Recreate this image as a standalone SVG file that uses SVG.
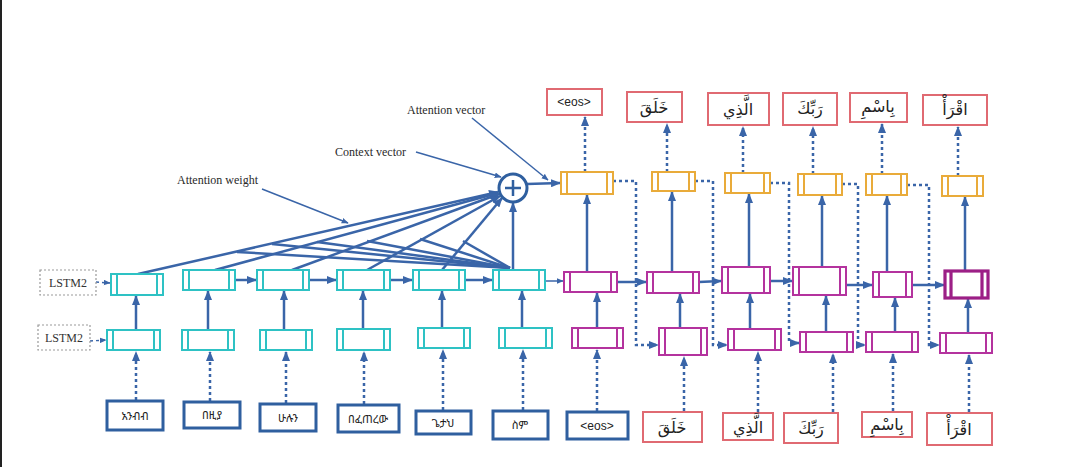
<svg xmlns="http://www.w3.org/2000/svg" width="1080" height="467" viewBox="0 0 1080 467">
<defs>
<style>
.enc{fill:#fff;stroke:#2ec2c4;stroke-width:2}
.dec{fill:#fff;stroke:#b4339e;stroke-width:2}
.dec6{fill:#fff;stroke:#9c1f86;stroke-width:3.2}
.yel{fill:#fff;stroke:#e9ab3a;stroke-width:2}
.inp{fill:#fff;stroke:#2f5f9f;stroke-width:3}
.out{fill:#fff;stroke:#e06a72;stroke-width:2}
.lstm{fill:#fff;stroke:#999;stroke-width:1.2;stroke-dasharray:2 2}
.c{stroke:#3a65a8;stroke-width:2.5;fill:none}
.t{stroke:#3a65a8;stroke-width:1.5;fill:none}
.d{stroke-dasharray:3 3}
.lbl{font-family:"Liberation Serif",serif;font-size:12px;fill:#2a2a2a}
.ls{font-family:"Liberation Serif",serif;font-size:12px;fill:#333}
.am{font-family:"Noto Sans Ethiopic","Abyssinica SIL","DejaVu Sans",sans-serif;font-size:11px;fill:#222}
.eos{font-family:"Liberation Sans",sans-serif;font-size:12px;fill:#222}
.ar{font-family:"DejaVu Sans","Noto Sans",sans-serif;font-size:16px;fill:#222}
</style>
<marker id="ah" viewBox="0 0 10 8" refX="9" refY="4" markerWidth="10" markerHeight="8" markerUnits="userSpaceOnUse" orient="auto"><path d="M0,0 L10,4 L0,8 z" fill="#3a65a8"/></marker>
<marker id="as" viewBox="0 0 10 8" refX="9" refY="4" markerWidth="7" markerHeight="6" markerUnits="userSpaceOnUse" orient="auto"><path d="M0,0 L10,4 L0,8 z" fill="#3a65a8"/></marker>
</defs>
<rect width="1080" height="467" fill="#fff"/>
<line x1="1" y1="0" x2="1" y2="467" stroke="#222" stroke-width="2"/>

<g id="connectors">
<g class="c" stroke-width="2" marker-end="url(#ah)">
<line x1="138" y1="274" x2="498" y2="192"/>
<line x1="215" y1="270" x2="498" y2="193"/>
<line x1="292" y1="270" x2="499" y2="194"/>
<line x1="367" y1="270" x2="500" y2="196"/>
<line x1="442" y1="270" x2="502" y2="198"/>
</g>
<g class="c" stroke-width="1.4">
<line x1="510" y1="268" x2="237" y2="252"/>
<line x1="510" y1="268" x2="272" y2="244"/>
<line x1="510" y1="268" x2="317" y2="242"/>
<line x1="510" y1="268" x2="367" y2="241"/>
<line x1="510" y1="268" x2="420" y2="239"/>
<line x1="510" y1="268" x2="463" y2="241"/>
</g>
<line class="c" x1="513" y1="269" x2="513" y2="203" marker-end="url(#ah)"/>
<line class="c" x1="527" y1="184" x2="560" y2="183" marker-end="url(#ah)"/>
<line class="t" stroke-width="1" x1="472" y1="118" x2="548" y2="180" marker-end="url(#as)"/>
<line class="t" stroke-width="1" x1="416" y1="152" x2="501" y2="177" marker-end="url(#as)"/>
<line class="t" stroke-width="1" x1="262" y1="189" x2="348" y2="223" marker-end="url(#as)"/>
<line class="t d" x1="96" y1="282" x2="110" y2="283" marker-end="url(#as)"/>
<line class="t d" x1="90" y1="341" x2="106" y2="340" marker-end="url(#as)"/>
<g class="c d" marker-end="url(#ah)">
<line x1="136" y1="400" x2="136" y2="352"/>
<line x1="210" y1="401" x2="210" y2="352"/>
<line x1="286" y1="403" x2="286" y2="352"/>
<line x1="364" y1="404" x2="364" y2="352"/>
<line x1="443" y1="410" x2="443" y2="350"/>
<line x1="523" y1="410" x2="523" y2="350"/>
<line x1="597" y1="411" x2="597" y2="350"/>
<line x1="684" y1="411" x2="684" y2="357"/>
<line x1="758" y1="412" x2="758" y2="352"/>
<line x1="833" y1="412" x2="833" y2="354"/>
<line x1="893" y1="411" x2="893" y2="354"/>
<line x1="969" y1="412" x2="969" y2="355"/>
</g>
<g class="c" marker-end="url(#ah)">
<line x1="136" y1="330" x2="136" y2="296"/>
<line x1="208" y1="330" x2="208" y2="291"/>
<line x1="284" y1="330" x2="284" y2="291"/>
<line x1="363" y1="329" x2="363" y2="291"/>
<line x1="442" y1="328" x2="442" y2="291"/>
<line x1="522" y1="328" x2="522" y2="291"/>
</g>
<g class="c" marker-end="url(#ah)">
<line x1="235" y1="280" x2="256" y2="280"/>
<line x1="309" y1="280" x2="336" y2="280"/>
<line x1="390" y1="280" x2="412" y2="280"/>
<line x1="465" y1="280" x2="492" y2="280"/>
</g>
<line class="t" x1="545" y1="281" x2="563" y2="281" marker-end="url(#as)"/>
<g class="c" marker-end="url(#ah)">
<line x1="597" y1="328" x2="597" y2="293"/>
<line x1="680" y1="328" x2="680" y2="294"/>
<line x1="750" y1="329" x2="750" y2="294"/>
<line x1="826" y1="332" x2="826" y2="296"/>
<line x1="895" y1="332" x2="895" y2="298"/>
<line x1="968" y1="333" x2="968" y2="299"/>
</g>
<g class="c" marker-end="url(#ah)">
<line x1="587" y1="272" x2="587" y2="195"/>
<line x1="672" y1="272" x2="672" y2="192"/>
<line x1="749" y1="267" x2="749" y2="194"/>
<line x1="822" y1="275" x2="822" y2="196"/>
<line x1="887" y1="280" x2="887" y2="196"/>
<line x1="965" y1="280" x2="965" y2="197"/>
</g>
<g class="c d" marker-end="url(#ah)">
<line x1="585" y1="172" x2="585" y2="117"/>
<line x1="667" y1="172" x2="667" y2="124"/>
<line x1="743" y1="173" x2="743" y2="127"/>
<line x1="813" y1="174" x2="813" y2="127"/>
<line x1="882" y1="174" x2="882" y2="124"/>
<line x1="958" y1="176" x2="958" y2="127"/>
</g>
<g class="c d" marker-end="url(#ah)">
<polyline points="613,181 636,181 636,345 658,345"/>
<polyline points="695,181 713,181 713,345 727,345"/>
<polyline points="770,183 789,183 789,343 799,343"/>
<polyline points="842,184 858,184 858,345 865,345"/>
<polyline points="907,185 929,185 929,345 939,345"/>
</g>
<g class="c" marker-end="url(#ah)">
<line x1="617" y1="282" x2="646" y2="282"/>
<line x1="699" y1="282" x2="721" y2="281"/>
<line x1="770" y1="281" x2="792" y2="281"/>
<line x1="846" y1="285" x2="872" y2="285"/>
<line x1="912" y1="285" x2="944" y2="285"/>
</g>
</g>

<g id="labels">
<text class="lbl" x="407" y="114">Attention vector</text>
<text class="lbl" x="335" y="156">Context vector</text>
<text class="lbl" x="177" y="184">Attention weight</text>
</g>

<g id="sum">
<circle cx="513" cy="188" r="14" fill="#fff" stroke="#2f5f9f" stroke-width="3"/>
<path d="M513,180 V196 M505,188 H521" stroke="#2f5f9f" stroke-width="2.5"/>
</g>

<g id="lstm2a"><rect class="lstm" x="40" y="270" width="56" height="25"/><text class="ls" x="68" y="287" text-anchor="middle">LSTM2</text></g>
<g id="lstm2b"><rect class="lstm" x="38" y="325" width="52" height="25"/><text class="ls" x="64" y="342" text-anchor="middle">LSTM2</text></g>

<g id="e2_1"><rect class="enc" x="111" y="274" width="52" height="21"/><path class="enc" d="M117,274V295M157,274V295"/></g>
<g id="e2_2"><rect class="enc" x="183" y="270" width="52" height="20"/><path class="enc" d="M189,270V290M229,270V290"/></g>
<g id="e2_3"><rect class="enc" x="257" y="270" width="52" height="20"/><path class="enc" d="M263,270V290M303,270V290"/></g>
<g id="e2_4"><rect class="enc" x="337" y="270" width="53" height="20"/><path class="enc" d="M343,270V290M384,270V290"/></g>
<g id="e2_5"><rect class="enc" x="413" y="270" width="52" height="20"/><path class="enc" d="M419,270V290M459,270V290"/></g>
<g id="e2_6"><rect class="enc" x="493" y="270" width="52" height="20"/><path class="enc" d="M499,270V290M539,270V290"/></g>
<g id="e1_1"><rect class="enc" x="107" y="330" width="53" height="20"/><path class="enc" d="M113,330V350M154,330V350"/></g>
<g id="e1_2"><rect class="enc" x="182" y="330" width="52" height="20"/><path class="enc" d="M188,330V350M228,330V350"/></g>
<g id="e1_3"><rect class="enc" x="260" y="330" width="52" height="20"/><path class="enc" d="M266,330V350M306,330V350"/></g>
<g id="e1_4"><rect class="enc" x="337" y="329" width="53" height="21"/><path class="enc" d="M343,329V350M384,329V350"/></g>
<g id="e1_5"><rect class="enc" x="418" y="328" width="52" height="20"/><path class="enc" d="M424,328V348M464,328V348"/></g>
<g id="e1_6"><rect class="enc" x="499" y="328" width="53" height="20"/><path class="enc" d="M505,328V348M546,328V348"/></g>

<g id="d2_1"><rect class="dec" x="564" y="272" width="53" height="20"/><path class="dec" d="M570,272V292M611,272V292"/></g>
<g id="d2_2"><rect class="dec" x="647" y="272" width="52" height="21"/><path class="dec" d="M653,272V293M693,272V293"/></g>
<g id="d2_3"><rect class="dec" x="722" y="267" width="48" height="26"/><path class="dec" d="M728,267V293M764,267V293"/></g>
<g id="d2_4"><rect class="dec" x="793" y="267" width="53" height="28"/><path class="dec" d="M799,267V295M840,267V295"/></g>
<g id="d2_5"><rect class="dec" x="873" y="272" width="39" height="25"/><path class="dec" d="M879,272V297M906,272V297"/></g>
<g id="d2_6"><rect class="dec6" x="945" y="271" width="43" height="27"/><path class="dec6" d="M951,271V298M982,271V298"/></g>
<g id="d1_1"><rect class="dec" x="572" y="328" width="51" height="20"/><path class="dec" d="M578,328V348M617,328V348"/></g>
<g id="d1_2"><rect class="dec" x="659" y="328" width="48" height="27"/><path class="dec" d="M665,328V355M701,328V355"/></g>
<g id="d1_3"><rect class="dec" x="728" y="329" width="53" height="21"/><path class="dec" d="M734,329V350M775,329V350"/></g>
<g id="d1_4"><rect class="dec" x="800" y="332" width="53" height="20"/><path class="dec" d="M806,332V352M847,332V352"/></g>
<g id="d1_5"><rect class="dec" x="866" y="332" width="52" height="20"/><path class="dec" d="M872,332V352M912,332V352"/></g>
<g id="d1_6"><rect class="dec" x="940" y="333" width="52" height="20"/><path class="dec" d="M946,333V353M986,333V353"/></g>

<g id="a_1"><rect class="yel" x="561" y="172" width="52" height="22"/><path class="yel" d="M567,172V194M607,172V194"/></g>
<g id="a_2"><rect class="yel" x="652" y="172" width="43" height="19"/><path class="yel" d="M658,172V191M689,172V191"/></g>
<g id="a_3"><rect class="yel" x="725" y="173" width="45" height="20"/><path class="yel" d="M731,173V193M764,173V193"/></g>
<g id="a_4"><rect class="yel" x="798" y="174" width="44" height="21"/><path class="yel" d="M804,174V195M836,174V195"/></g>
<g id="a_5"><rect class="yel" x="866" y="174" width="41" height="21"/><path class="yel" d="M872,174V195M901,174V195"/></g>
<g id="a_6"><rect class="yel" x="942" y="176" width="41" height="20"/><path class="yel" d="M948,176V196M977,176V196"/></g>

<g id="in1"><rect class="inp" x="107" y="401" width="56" height="29"/><text class="am" x="135" y="420" text-anchor="middle">አንብብ</text></g>
<g id="in2"><rect class="inp" x="184" y="402" width="56" height="26"/><text class="am" x="212" y="419" text-anchor="middle">በዚያ</text></g>
<g id="in3"><rect class="inp" x="260" y="404" width="56" height="27"/><text class="am" x="288" y="422" text-anchor="middle">ሁሉን</text></g>
<g id="in4"><rect class="inp" x="338" y="405" width="61" height="27"/><text class="am" x="368" y="423" text-anchor="middle">በፈጠረው</text></g>
<g id="in5"><rect class="inp" x="416" y="411" width="55" height="23"/><text class="am" x="443" y="427" text-anchor="middle">ጌታህ</text></g>
<g id="in6"><rect class="inp" x="493" y="411" width="55" height="28"/><text class="am" x="520" y="429" text-anchor="middle">ስም</text></g>
<g id="in7"><rect class="inp" x="567" y="412" width="61" height="27"/><text class="eos" x="597" y="430" text-anchor="middle">&lt;eos&gt;</text></g>

<g id="b2"><rect class="out" x="643" y="412" width="59" height="30"/><text class="ar" x="672" y="433" text-anchor="middle">خَلَقَ</text></g>
<g id="b3"><rect class="out" x="723" y="413" width="50" height="27"/><text class="ar" x="748" y="433" text-anchor="middle">الَّذِي</text></g>
<g id="b4"><rect class="out" x="784" y="413" width="54" height="30"/><text class="ar" x="811" y="434" text-anchor="middle">رَبِّكَ</text></g>
<g id="b5"><rect class="out" x="862" y="412" width="50" height="25"/><text class="ar" x="887" y="430" text-anchor="middle">بِاسْمِ</text></g>
<g id="b6"><rect class="out" x="927" y="413" width="65" height="32"/><text class="ar" x="959" y="435" text-anchor="middle">اقْرَأْ</text></g>

<g id="o1"><rect class="out" x="547" y="89" width="55" height="26"/><text class="eos" x="574" y="106" text-anchor="middle">&lt;eos&gt;</text></g>
<g id="o2"><rect class="out" x="627" y="92" width="55" height="30"/><text class="ar" x="654" y="113" text-anchor="middle">خَلَقَ</text></g>
<g id="o3"><rect class="out" x="708" y="93" width="61" height="32"/><text class="ar" x="738" y="115" text-anchor="middle">الَّذِي</text></g>
<g id="o4"><rect class="out" x="783" y="93" width="54" height="32"/><text class="ar" x="810" y="114" text-anchor="middle">رَبِّكَ</text></g>
<g id="o5"><rect class="out" x="850" y="93" width="57" height="29"/><text class="ar" x="878" y="112" text-anchor="middle">بِاسْمِ</text></g>
<g id="o6"><rect class="out" x="923" y="95" width="64" height="30"/><text class="ar" x="955" y="115" text-anchor="middle">اقْرَأْ</text></g>
</svg>
